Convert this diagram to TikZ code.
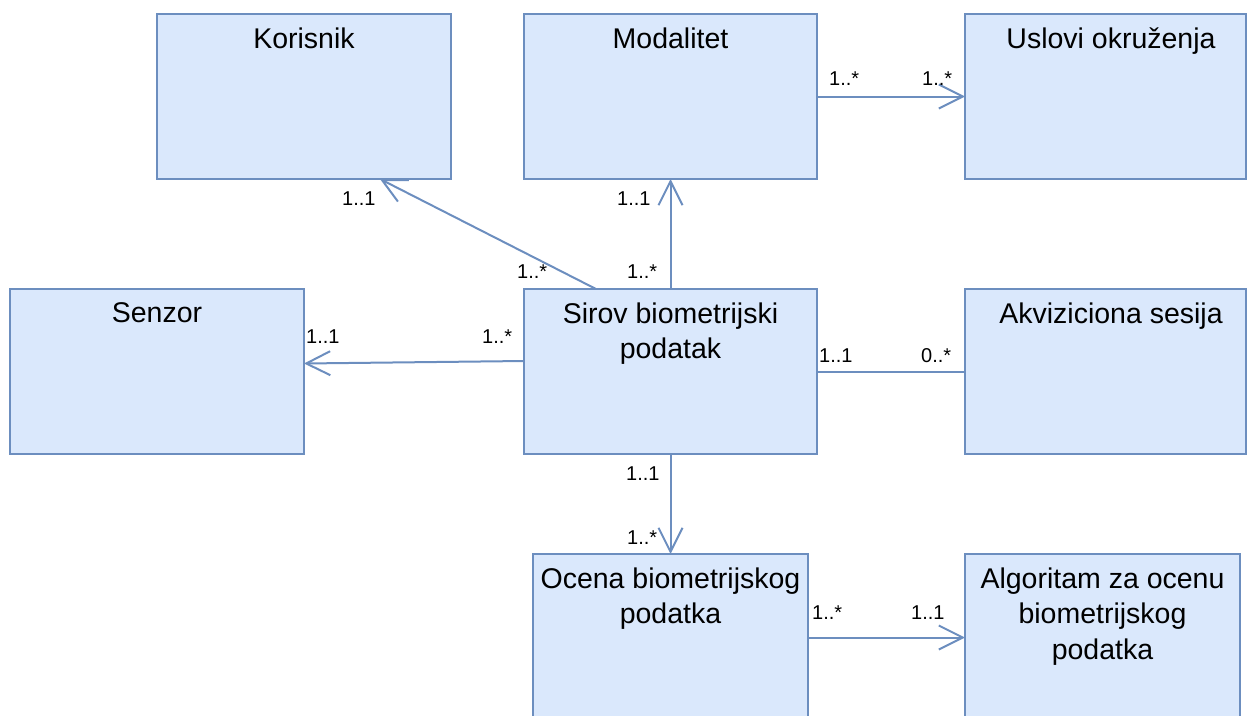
\documentclass[tikz,border=0pt]{standalone}
\usepackage{fontspec}
\setmainfont{Liberation Sans}
\usetikzlibrary{arrows.meta,calc}
\definecolor{boxfill}{HTML}{DAE8FC}
\definecolor{boxline}{HTML}{6C8EBF}

\begin{document}
\begin{tikzpicture}[x=1pt,y=-1pt,
  cls/.style={draw=boxline, fill=boxfill, line width=2pt, rectangle, inner sep=0pt, outer sep=0pt, anchor=north west},
  title/.style={anchor=north, inner sep=0pt, align=center, font=\fontsize{28.5}{35.5}\selectfont},
  mult/.style={inner sep=0pt, font=\fontsize{20}{23}\selectfont, anchor=base west},
  assoc/.style={draw=boxline, line width=2pt, -{Straight Barb[length=24pt,width=24pt]}},
  link/.style={draw=boxline, line width=2pt}]
\useasboundingbox (0,0) rectangle (1247,715);
\clip (0,0) rectangle (1247,715);

% class boxes
\node[cls, minimum width=294pt, minimum height=165pt] (kor) at (157,14) {};
\node[cls, minimum width=293pt, minimum height=165pt] (mod) at (524,14) {};
\node[cls, minimum width=281pt, minimum height=165pt] (usl) at (965,14) {};
\node[cls, minimum width=294pt, minimum height=165pt] (sen) at (10,289) {};
\node[cls, minimum width=293pt, minimum height=165pt] (sir) at (524,289) {};
\node[cls, minimum width=281pt, minimum height=165pt] (akv) at (965,289) {};
\node[cls, minimum width=275pt, minimum height=165pt] (oce) at (533,554) {};
\node[cls, minimum width=275pt, minimum height=165pt] (alg) at (965,554) {};

% class names
\node[title] (korT) at ($(kor.north)+(0,13.6)$) {Korisnik};
\node[title] (modT) at ($(mod.north)+(0,13.6)$) {Modalitet};
\node[title] (uslT) at ($(usl.north)+(5.5,13.6)$) {Uslovi okruženja};
\node[title] (senT) at ($(sen.north)+(0,13.6)$) {Senzor};
\node[title] (sirT) at ($(sir.north)+(0,13.6)$) {Sirov biometrijski\\podatak};
\node[title] (akvT) at ($(akv.north)+(5.5,13.6)$) {Akviziciona sesija};
\node[title] (oceT) at ($(oce.north)+(0,13.6)$) {Ocena biometrijskog\\podatka};
\node[title] (algT) at ($(alg.north)+(0,13.6)$) {Algoritam za ocenu\\biometrijskog\\podatka};

% associations
\draw[assoc] ($(sir.north west)+(72,0)$) -- ($(kor.south west)+(223,0)$);
\draw[assoc] (sir.north) -- (mod.south);
\draw[assoc] (mod.east) -- (usl.west);
\draw[assoc] ($(sir.west)+(0,-10.5)$) -- ($(sen.east)+(0,-8)$);
\draw[link] (sir.east) -- (akv.west);
\draw[assoc] (sir.south) -- (oce.north);
\draw[assoc] ($(oce.east)+(0,1)$) -- ($(alg.west)+(0,1)$);

% multiplicities
\node[mult] (m1) at (342,205) {1..1};
\node[mult] (m2) at (517,278) {1..*};
\node[mult] (m3) at (617,205) {1..1};
\node[mult] (m4) at (627,278) {1..*};
\node[mult] (m5) at (829,85) {1..*};
\node[mult] (m6) at (922,85) {1..*};
\node[mult] (m7) at (306,343) {1..1};
\node[mult] (m8) at (482,343) {1..*};
\node[mult] (m9) at (819,362) {1..1};
\node[mult] (m10) at (921,362) {0..*};
\node[mult] (m11) at (626,480) {1..1};
\node[mult] (m12) at (627,544) {1..*};
\node[mult] (m13) at (812,619) {1..*};
\node[mult] (m14) at (911,619) {1..1};
\end{tikzpicture}
\end{document}
